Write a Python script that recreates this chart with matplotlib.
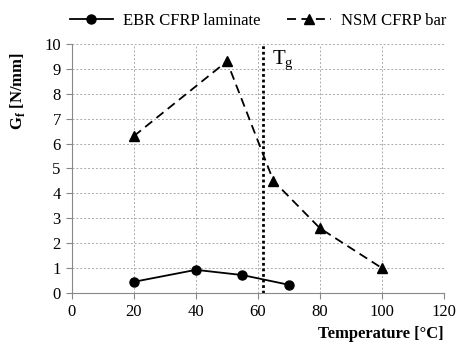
import matplotlib.pyplot as plt

plt.rcParams['font.family'] = ['Liberation Serif', 'DejaVu Serif']

ebr_temp = [20, 40, 55, 70]
ebr_gf = [0.45, 0.93, 0.72, 0.33]

nsm_temp = [20, 50, 65, 80, 100]
nsm_gf = [6.3, 9.3, 4.5, 2.6, 1.0]

tg = 61.5

fig = plt.figure(figsize=(4.61, 3.48), dpi=100)
ax = fig.add_axes([0.156, 0.158, 0.807, 0.716])

ax.plot(ebr_temp, ebr_gf, color='black', linestyle='-', marker='o',
        markersize=6.5, linewidth=1.3, label='EBR CFRP laminate')
ax.plot(nsm_temp, nsm_gf, color='black', linestyle=(0, (5, 3)), marker='^',
        markersize=6.5, linewidth=1.3, label='NSM CFRP bar')

# glass transition temperature
ax.axvline(tg, color='black', linestyle=(0, (1, 1)), linewidth=2)
ax.text(tg + 3, 9.8, 'T$_\\mathregular{g}$', fontsize=15, va='top', ha='left')

ax.set_xlim(0, 120)
ax.set_ylim(0, 10)
ax.set_xticks(range(0, 121, 20))
ax.set_yticks(range(0, 11))
ax.grid(True, color='#aaaaaa', linestyle=(0, (2, 2)), linewidth=0.7)
ax.set_axisbelow(True)

for s in ['top', 'right']:
    ax.spines[s].set_visible(False)
for s in ['left', 'bottom']:
    ax.spines[s].set_color('#888888')
ax.tick_params(axis='both', labelsize=12, length=4, color='#888888', pad=4)

ax.set_xlabel('Temperature [°C]', fontsize=12, fontweight='bold', loc='right')
ax.set_ylabel('G$_\\mathregular{f}$ [N/mm]', fontsize=12, fontweight='bold')
ax.yaxis.set_label_coords(-0.12, 0.81)

ax.legend(loc='lower center', bbox_to_anchor=(0.5, 1.0), ncol=2, frameon=False,
          fontsize=12, handlelength=2.6, columnspacing=1.6, handletextpad=0.6)

fig.savefig('out.png', dpi=100)
